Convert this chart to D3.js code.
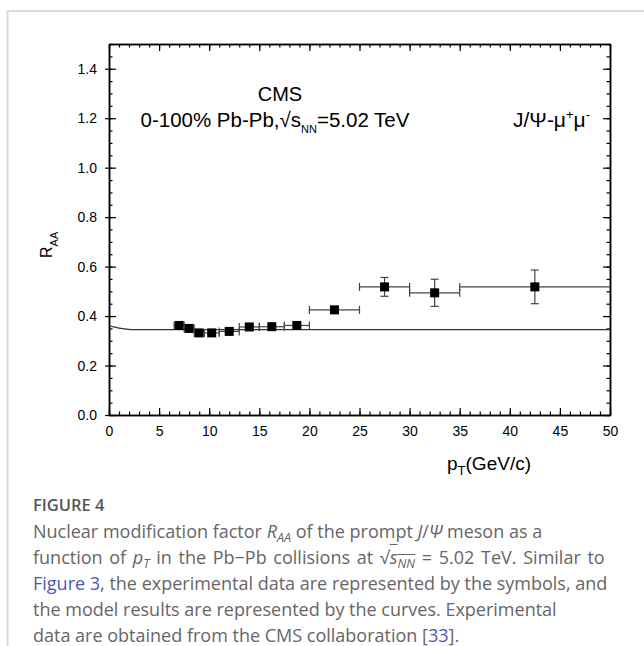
<!DOCTYPE html>
<html>
<head>
<meta charset="utf-8">
<script src="https://cdn.jsdelivr.net/npm/d3@7"></script>
<style>
  body { margin: 0; background: #fff; }
  #wrap { position: relative; width: 644px; height: 646px; overflow: hidden; }
  #chart { position: absolute; left: 0; top: 0; }
  #cap { position: absolute; left: 33px; top: 491px; font-family: "Open Sans", sans-serif;
         font-size: 18px; line-height: 26px; color: #666; white-space: nowrap; }
  #cap .fig { font-weight: 600; color: #555; font-size: 16.5px; }
  #cap sub { font-size: 0.7em; line-height: 0; vertical-align: -0.28em; }
  #cap a { color: #4f55b5; text-decoration: none; }
  #cap .ol { text-decoration: overline; }
  #cap .l2 { word-spacing: 2px; }
</style>
</head>
<body>
<div id="wrap">
  <svg id="chart" width="644" height="646"></svg>
  <div id="cap">
    <span class="fig">FIGURE 4</span><br>
    Nuclear modification factor <i>R<sub>AA</sub></i> of the prompt <i>J</i>/<i>Ψ</i> meson as a<br>
    <span class="l2">function of <i>p<sub>T</sub></i> in the Pb−Pb collisions at √<span class="ol"><i>s<sub>NN</sub></i></span> = 5.02 TeV. Similar to</span><br>
    <a>Figure 3</a>, the experimental data are represented by the symbols, and<br>
    the model results are represented by the curves. Experimental<br>
    data are obtained from the CMS collaboration [<a>33</a>].
  </div>
</div>
<script>
// CMS prompt J/psi data (bin centres, bin edges, RAA, stat errors)
const ptData = [7.0, 8.0, 9.0, 10.25, 12.0, 14.0, 16.25, 18.75, 22.5, 27.5, 32.5, 42.5];
const ptLow  = [6.5, 7.5, 8.5, 9.5, 11, 13, 15, 17.5, 20, 25, 30, 35];
const ptHigh = [7.5, 8.5, 9.5, 11, 13, 15, 17.5, 20, 25, 30, 35, 50];
const raaData = [0.362, 0.350, 0.332, 0.332, 0.338, 0.356, 0.357, 0.362, 0.425, 0.518, 0.494, 0.518];
const raaErr  = [0.008, 0.008, 0.008, 0.008, 0.008, 0.008, 0.009, 0.010, 0.014, 0.038, 0.055, 0.068];

// model curve
const ptModel  = [0, 0.5, 1, 1.5, 2, 2.5, 3, 5, 10, 20, 30, 40, 50];
const raaModel = [0.362, 0.356, 0.351, 0.348, 0.346, 0.345, 0.345, 0.345, 0.345, 0.345, 0.345, 0.345, 0.345];

// ticks
const xMajor = d3.range(0, 51, 5);
const xMinor = d3.range(0, 51, 1);
const yMajor = d3.range(0, 1.45, 0.2);
const yMinor = d3.range(0, 1.51, 0.05);

const margin = { top: 44, right: 34, bottom: 231, left: 109 },
  width = 644 - margin.left - margin.right,
  height = 646 - margin.top - margin.bottom;

const root = d3.select("#chart");

// card border (left + top)
root.append("path")
  .attr("d", "M7.5,646V11H644")
  .attr("fill", "none")
  .attr("stroke", "#dadada")
  .attr("stroke-width", 2);

const svg = root.append("g")
  .attr("transform", `translate(${margin.left},${margin.top})`);

const x = d3.scaleLinear().domain([0, 50]).range([0, width]);
const y = d3.scaleLinear().domain([0, 1.5]).range([height, 0]);

const font = "'Liberation Sans', Arial, sans-serif";

function styleAxis(g) {
  g.select(".domain").attr("stroke", "#000").attr("stroke-width", 1.5);
  g.selectAll(".tick line").attr("stroke", "#000").attr("stroke-width", 1.2);
  g.selectAll("text").attr("font-family", font).attr("font-size", 14).attr("fill", "#000");
}

// bottom
svg.append("g").attr("transform", `translate(0,${height})`)
  .call(d3.axisBottom(x).tickValues(xMinor).tickSize(-3.5).tickSizeOuter(0).tickFormat(""))
  .call(styleAxis);
svg.append("g").attr("transform", `translate(0,${height})`)
  .call(d3.axisBottom(x).tickValues(xMajor).tickSize(-7).tickSizeOuter(0).tickPadding(11).tickFormat(d3.format("d")))
  .call(styleAxis);
// top
svg.append("g")
  .call(d3.axisTop(x).tickValues(xMinor).tickSize(-3.5).tickSizeOuter(0).tickFormat(""))
  .call(styleAxis);
svg.append("g")
  .call(d3.axisTop(x).tickValues(xMajor).tickSize(-7).tickSizeOuter(0).tickFormat(""))
  .call(styleAxis);
// left
svg.append("g")
  .call(d3.axisLeft(y).tickValues(yMinor).tickSize(-3.5).tickSizeOuter(0).tickFormat(""))
  .call(styleAxis);
svg.append("g")
  .call(d3.axisLeft(y).tickValues(yMajor).tickSize(-7).tickSizeOuter(0).tickPadding(12).tickFormat(d3.format(".1f")))
  .call(styleAxis)
  .call(g => g.selectAll(".tick line").attr("x1", -4));
// right
svg.append("g").attr("transform", `translate(${width},0)`)
  .call(d3.axisRight(y).tickValues(yMinor).tickSize(-3.5).tickSizeOuter(0).tickFormat(""))
  .call(styleAxis);
svg.append("g").attr("transform", `translate(${width},0)`)
  .call(d3.axisRight(y).tickValues(yMajor).tickSize(-7).tickSizeOuter(0).tickFormat(""))
  .call(styleAxis);

// model curve
const line = d3.line()
  .x((d, i) => x(ptModel[i]))
  .y(d => y(d))
  .curve(d3.curveMonotoneX);
svg.append("path")
  .datum(raaModel)
  .attr("d", line)
  .attr("fill", "none")
  .attr("stroke", "#333")
  .attr("stroke-width", 1.2);

// data points with error bars
const pts = svg.append("g").selectAll("g")
  .data(ptData.map((p, i) => ({ p, lo: ptLow[i], hi: ptHigh[i], r: raaData[i], e: raaErr[i] })))
  .join("g")
  .attr("stroke", "#444")
  .attr("stroke-width", 1.2);

pts.append("line")
  .attr("x1", d => x(d.lo)).attr("x2", d => x(d.hi))
  .attr("y1", d => y(d.r)).attr("y2", d => y(d.r));
pts.append("line")
  .attr("x1", d => x(d.lo)).attr("x2", d => x(d.lo))
  .attr("y1", d => y(d.r) - 4).attr("y2", d => y(d.r) + 4);
pts.filter(d => d.hi < 50).append("line")
  .attr("x1", d => x(d.hi)).attr("x2", d => x(d.hi))
  .attr("y1", d => y(d.r) - 4).attr("y2", d => y(d.r) + 4);
pts.append("line")
  .attr("x1", d => x(d.p)).attr("x2", d => x(d.p))
  .attr("y1", d => y(d.r - d.e)).attr("y2", d => y(d.r + d.e));
pts.append("line")
  .attr("x1", d => x(d.p) - 4).attr("x2", d => x(d.p) + 4)
  .attr("y1", d => y(d.r + d.e)).attr("y2", d => y(d.r + d.e));
pts.append("line")
  .attr("x1", d => x(d.p) - 4).attr("x2", d => x(d.p) + 4)
  .attr("y1", d => y(d.r - d.e)).attr("y2", d => y(d.r - d.e));
pts.append("rect")
  .attr("x", d => x(d.p) - 4.5).attr("y", d => y(d.r) - 4.5)
  .attr("width", 9).attr("height", 9)
  .attr("fill", "#000").attr("stroke", "none");

// annotations
root.append("text")
  .attr("x", 280).attr("y", 100.5)
  .attr("text-anchor", "middle")
  .attr("font-family", font).attr("font-size", 20)
  .text("CMS");

const t2 = root.append("text")
  .attr("x", 140.5).attr("y", 126.5)
  .attr("font-family", font).attr("font-size", 20.5);
t2.append("tspan").text("0-100% Pb-Pb,√s");
t2.append("tspan").attr("font-size", 11).attr("dy", 6).text("NN");
t2.append("tspan").attr("dy", -6).text("=5.02 TeV");

const t3 = root.append("text")
  .attr("x", 513).attr("y", 126.5)
  .attr("font-family", font).attr("font-size", 21);
t3.append("tspan").text("J/Ψ-μ");
t3.append("tspan").attr("font-size", 13).attr("dy", -8).text("+");
t3.append("tspan").attr("dy", 8).text("μ");
t3.append("tspan").attr("font-size", 13).attr("dy", -8).text("-");

// axis titles
const xt = root.append("text")
  .attr("x", 447).attr("y", 470)
  .attr("font-family", font).attr("font-size", 19);
xt.append("tspan").text("p");
xt.append("tspan").attr("font-size", 13).attr("dy", 5).text("T");
xt.append("tspan").attr("dy", -5).text("(GeV/c)");

const yt = root.append("text")
  .attr("transform", "translate(52,258) rotate(-90)")
  .attr("font-family", font).attr("font-size", 16);
yt.append("tspan").text("R");
yt.append("tspan").attr("font-size", 11).attr("dy", 6).text("AA");
</script>
</body>
</html>
